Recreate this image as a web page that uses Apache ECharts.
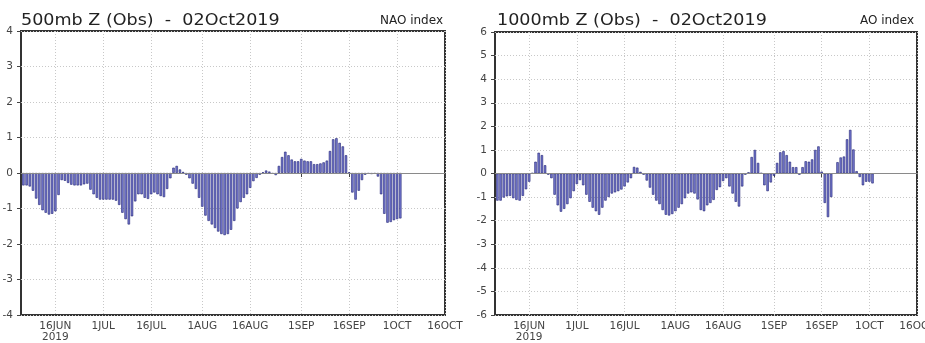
<!DOCTYPE html>
<html><head><meta charset="utf-8">
<script src="https://cdn.jsdelivr.net/npm/echarts@6/dist/echarts.min.js"></script>
<style>html,body{margin:0;padding:0;background:#fff}#c{width:925px;height:343px}</style>
</head><body><div id="c"></div>
<script>
// daily values, 6 Jun 2019 .. 2 Oct 2019
const firstDate = '2019-06-06';
const naoValues = [
  -0.35,-0.35,-0.38,-0.5,-0.72,-0.9,-1.05,-1.12,-1.17,-1.15,-1.08,-0.62,-0.2,-0.22,-0.28,-0.33,-0.35,-0.35,-0.35,-0.32,
  -0.3,-0.47,-0.6,-0.7,-0.75,-0.75,-0.75,-0.75,-0.75,-0.78,-0.9,-1.12,-1.3,-1.45,-1.22,-0.8,-0.6,-0.6,-0.7,-0.73,
  -0.6,-0.55,-0.6,-0.65,-0.68,-0.45,-0.15,0.15,0.2,0.1,0.03,-0.05,-0.15,-0.3,-0.45,-0.7,-0.95,-1.2,-1.35,-1.45,
  -1.55,-1.65,-1.72,-1.75,-1.72,-1.6,-1.35,-1.0,-0.82,-0.7,-0.6,-0.42,-0.23,-0.14,-0.05,0.02,0.07,0.04,-0.02,-0.06,
  0.2,0.45,0.6,0.5,0.38,0.33,0.33,0.4,0.35,0.33,0.33,0.25,0.25,0.27,0.3,0.35,0.62,0.95,0.98,0.85,
  0.75,0.5,0.02,-0.55,-0.75,-0.5,-0.2,-0.05,-0.02,-0.03,-0.02,-0.1,-0.6,-1.15,-1.4,-1.38,-1.33,-1.3,-1.28
];
const aoValues = [
  -1.15,-1.15,-1.02,-0.97,-0.95,-1.05,-1.12,-1.15,-0.95,-0.67,-0.35,0.02,0.5,0.88,0.78,0.35,-0.05,-0.2,-0.9,-1.35,
  -1.62,-1.5,-1.3,-1.05,-0.75,-0.45,-0.28,-0.5,-0.9,-1.2,-1.45,-1.6,-1.75,-1.45,-1.15,-1.0,-0.85,-0.8,-0.75,-0.68,
  -0.55,-0.38,-0.2,0.28,0.25,0.07,-0.05,-0.3,-0.6,-0.9,-1.15,-1.3,-1.55,-1.75,-1.78,-1.72,-1.6,-1.45,-1.3,-1.05,
  -0.85,-0.8,-0.85,-1.1,-1.55,-1.6,-1.35,-1.25,-1.12,-0.7,-0.58,-0.32,-0.2,-0.55,-0.85,-1.2,-1.4,-0.55,-0.05,0.05,
  0.7,1.0,0.45,0.02,-0.5,-0.75,-0.38,-0.1,0.45,0.9,0.95,0.78,0.5,0.27,0.27,-0.05,0.27,0.52,0.5,0.6,
  1.0,1.15,0.08,-1.25,-1.85,-1.0,0.0,0.48,0.68,0.72,1.45,1.85,1.02,0.1,-0.15,-0.5,-0.35,-0.35,-0.42
];
// x axis counted in days since the reference date
const refDate = '2019-06-05';
const axisStartDay = 0.25;
const axisEndDay = 133;
const tickDates = ['2019-06-16','2019-07-01','2019-07-16','2019-08-01','2019-08-16','2019-09-01','2019-09-16','2019-10-01','2019-10-16'];
const tickLabels = ['16JUN\n2019','1JUL','16JUL','1AUG','16AUG','1SEP','16SEP','1OCT','16OCT'];
const titles = ['500mb Z (Obs)  -  02Oct2019', '1000mb Z (Obs)  -  02Oct2019'];
const indexNames = ['NAO index', 'AO index'];
const yMin = [-4, -6];
const yMax = [4, 6];

const DAY = 86400000;
function utc(s) { const p = s.split('-').map(Number); return Date.UTC(p[0], p[1]-1, p[2]); }
const refStamp = utc(refDate);
const firstDay = Math.round((utc(firstDate) - refStamp) / DAY);
const tickDays = tickDates.map(s => Math.round((utc(s) - refStamp) / DAY));
function toPairs(vals) { return vals.map((v, i) => [firstDay + i, v]); }
function xLabel(v) {
  const i = tickDays.indexOf(Math.round(v));
  return i >= 0 ? tickLabels[i] : '';
}

const chart = echarts.init(document.getElementById('c'), null, {renderer: 'canvas'});
const grids = [
  {left: 21, top: 31, width: 424, height: 284},
  {left: 495, top: 32, width: 422, height: 283}
];
const labelColor = '#444';
const fontFam = '"DejaVu Sans", sans-serif';

function titleText(txt, x) {
  return {type: 'text', x: x, y: 14, scaleX: 1.17, silent: true,
    style: {text: txt, fontFamily: fontFam, fontSize: 15, fill: '#222', align: 'left', verticalAlign: 'top'}};
}
function indexText(txt, x) {
  return {type: 'text', x: x, y: 15, silent: true,
    style: {text: txt, fontFamily: fontFam, fontSize: 12, fill: '#222', align: 'right', verticalAlign: 'top'}};
}

const option = {
  animation: false,
  backgroundColor: '#fff',
  graphic: [
    titleText(titles[0], 21), indexText(indexNames[0], 443),
    titleText(titles[1], 497), indexText(indexNames[1], 914)
  ],
  grid: grids.map(g => Object.assign({show: true, borderColor: '#333', borderWidth: 2, backgroundColor: '#fff', containLabel: false, outerBoundsMode: 'none'}, g)),
  xAxis: [0, 1].map(k => ({
    type: 'value', gridIndex: k, min: axisStartDay, max: axisEndDay,
    axisLine: {show: false},
    axisTick: {show: true, customValues: tickDays, length: 4, lineStyle: {color: '#444'}},
    axisLabel: {customValues: tickDays, formatter: xLabel, color: labelColor, fontFamily: fontFam, fontSize: 10.5, lineHeight: 11, margin: 6, hideOverlap: false},
    splitLine: {show: true, lineStyle: {color: '#c8c8c8', type: [1, 2], width: 1}}
  })),
  yAxis: [0, 1].map(k => ({
    type: 'value', gridIndex: k, min: yMin[k], max: yMax[k], interval: 1,
    axisLine: {show: false},
    axisTick: {show: true, length: 4, lineStyle: {color: '#444'}},
    axisLabel: {color: labelColor, fontFamily: fontFam, fontSize: 10.5, margin: 8},
    splitLine: {show: true, lineStyle: {color: '#c8c8c8', type: [1, 2], width: 1}}
  })),
  series: [naoValues, aoValues].map((vals, k) => ({
    type: 'bar', xAxisIndex: k, yAxisIndex: k,
    data: toPairs(vals),
    barWidth: 2.4,
    itemStyle: {color: '#7478cf', borderColor: '#202272', borderWidth: 0.6},
    markLine: {silent: true, symbol: 'none', label: {show: false}, lineStyle: {color: '#8a8a8a', type: 'solid', width: 1}, data: [{yAxis: 0}]}
  }))
};
chart.setOption(option);
</script>
</body></html>
